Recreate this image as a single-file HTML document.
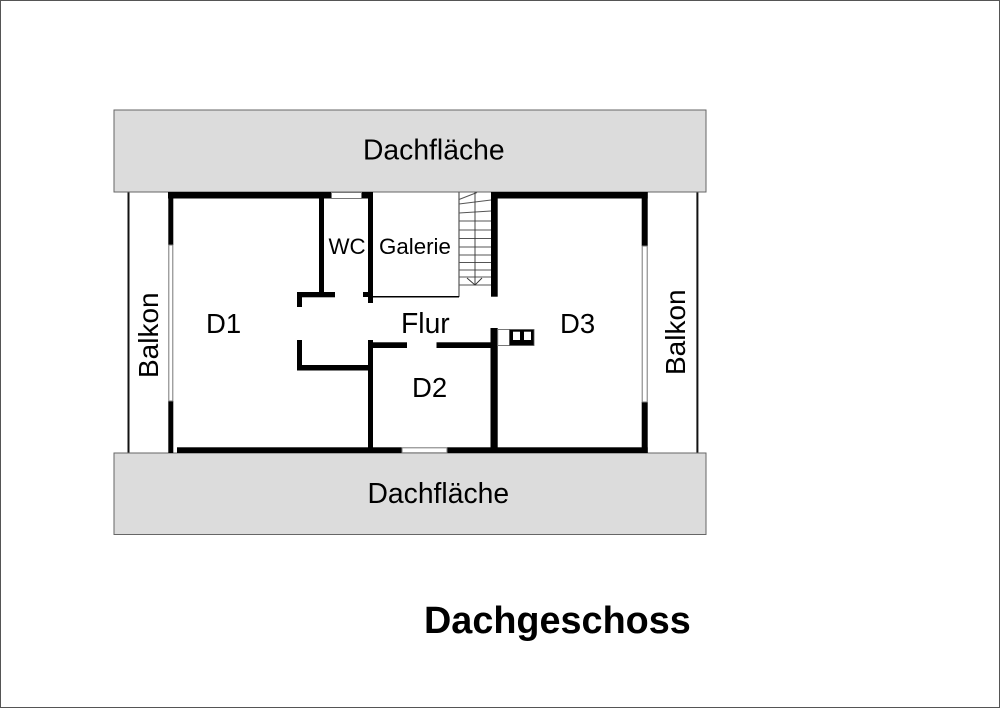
<!DOCTYPE html>
<html>
<head>
<meta charset="utf-8">
<style>
html,body{margin:0;padding:0;background:#fff}
svg{display:block}
text{font-family:"Liberation Sans",sans-serif;fill:#000}
</style>
</head>
<body>
<svg width="1000" height="708" viewBox="0 0 1000 708" xmlns="http://www.w3.org/2000/svg">
<rect x="0" y="0" width="1000" height="708" fill="#fff"/>
<rect x="0.5" y="0.5" width="999" height="707" fill="none" stroke="#555" stroke-width="1"/>

<!-- balcony lines -->
<rect x="127.5" y="192" width="2" height="261" fill="#111"/>
<rect x="696.4" y="192" width="2" height="261" fill="#111"/>

<!-- roofs -->
<rect x="114" y="110" width="592" height="82" fill="#dcdcdc" stroke="#666" stroke-width="1"/>
<rect x="114" y="453" width="592" height="81.5" fill="#dcdcdc" stroke="#666" stroke-width="1"/>

<!-- stairs -->
<g stroke="#555" stroke-width="1" fill="none">
<path d="M459 199.5L477 192.5"/>
<path d="M459 204L491 200"/>
<path d="M459 213L491 211"/>
<path d="M459 221H491M459 230H491M459 238.500H491M459 247H491M459 255H491M459 262.500H491M459 270H491M459 277H491M459 285H491"/>
</g>
<path d="M459 192V297" stroke="#555" stroke-width="1.200" fill="none"/>
<path d="M475 192V285M467 278L475 285L482 278" stroke="#333" stroke-width="0.900" fill="none"/>

<!-- walls -->
<g fill="#000">
<rect x="168" y="192" width="163" height="6.500"/>
<rect x="361" y="192" width="12" height="6.500"/>
<rect x="491" y="192" width="156.700" height="6.500"/>
<rect x="168.300" y="192" width="5" height="53"/>
<rect x="168.300" y="401" width="5" height="52"/>
<rect x="641.700" y="192" width="6" height="54"/>
<rect x="641.700" y="402" width="6" height="51"/>
<rect x="177" y="447.300" width="224.500" height="5.700"/>
<rect x="447" y="447.300" width="200.700" height="5.700"/>
<rect x="319" y="192" width="5" height="102"/>
<rect x="297" y="292" width="38" height="5.300"/>
<rect x="297" y="292" width="5" height="15"/>
<rect x="363" y="292" width="8" height="5"/>
<rect x="368" y="192" width="5" height="111"/>
<rect x="297" y="340" width="5" height="30.500"/>
<rect x="297" y="365" width="73" height="5.500"/>
<rect x="368" y="340" width="5" height="113"/>
<rect x="370" y="342.300" width="37" height="5.700"/>
<rect x="436.500" y="342.300" width="56" height="5.700"/>
<rect x="491" y="192" width="6.700" height="104.700"/>
<rect x="490.500" y="328" width="7.200" height="125"/>
<rect x="373" y="296" width="86" height="1.500"/>
</g>

<!-- windows -->
<rect x="331.500" y="192.500" width="30" height="6" fill="#fff" stroke="#777" stroke-width="1"/>
<rect x="402" y="447.800" width="45" height="5" fill="#fff" stroke="#777" stroke-width="1"/>
<rect x="168.800" y="245" width="4" height="156" fill="#fff" stroke="#777" stroke-width="1"/>
<rect x="642.200" y="246" width="5" height="156" fill="#fff" stroke="#777" stroke-width="1"/>

<!-- chimney -->
<rect x="497.700" y="329.500" width="12" height="16" fill="#fff" stroke="#777" stroke-width="1"/>
<rect x="509.500" y="329.500" width="24.500" height="16" fill="#000" stroke="#555" stroke-width="0.800"/>
<rect x="513" y="331.700" width="7" height="8.300" fill="#fff"/>
<rect x="524" y="331.700" width="7" height="8.300" fill="#fff"/>

<!-- labels -->
<text x="363" y="159.500" font-size="28.300">Dachfläche</text>
<text x="367.500" y="503" font-size="28.300">Dachfläche</text>
<text x="206" y="333" font-size="27.500">D1</text>
<text x="560" y="333" font-size="27.500">D3</text>
<text x="412" y="397" font-size="27.500">D2</text>
<text x="401" y="333" font-size="28.300">Flur</text>
<text x="328.500" y="254" font-size="22.300">WC</text>
<text x="379" y="254" font-size="22.300">Galerie</text>
<text transform="translate(158,378) rotate(-90)" font-size="28">Balkon</text>
<text transform="translate(685,375) rotate(-90)" font-size="28">Balkon</text>
<text x="424" y="633" font-size="37.800" font-weight="bold">Dachgeschoss</text>
</svg>
</body>
</html>
